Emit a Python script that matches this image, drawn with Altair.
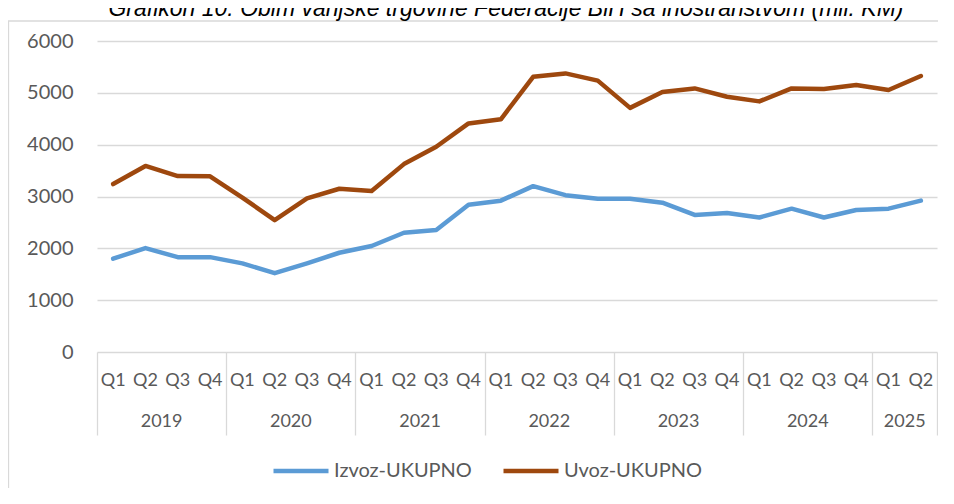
import altair as alt
import pandas as pd

quarters = ["Q1", "Q2", "Q3", "Q4"] * 6 + ["Q1", "Q2"]
years = ["2019"] * 4 + ["2020"] * 4 + ["2021"] * 4 + ["2022"] * 4 + ["2023"] * 4 + ["2024"] * 4 + ["2025"] * 2
izvoz = [1800, 2005, 1830, 1830, 1710, 1520, 1710, 1915, 2045, 2300, 2355, 2840,
         2920, 3200, 3025, 2955, 2955, 2880, 2645, 2680, 2595, 2765, 2595, 2740, 2765, 2920]
uvoz = [3240, 3590, 3395, 3390, 2980, 2545, 2965, 3150, 3105, 3625, 3960, 4410,
        4490, 5310, 5375, 5235, 4710, 5015, 5085, 4925, 4835, 5085, 5075, 5150, 5055, 5325]
series_names = ["Izvoz-UKUPNO", "Uvoz-UKUPNO"]
series_colors = ["#5B9BD5", "#9E480E"]
title_text = "Grafikon 10: Obim vanjske trgovine Federacije BiH sa inostranstvom (mil. KM)"

idx = list(range(len(quarters)))
rows = []
for name, vals in zip(series_names, [izvoz, uvoz]):
    for i, v in zip(idx, vals):
        rows.append({"i": i, "series": name, "value": v})
lines_df = pd.DataFrame(rows)
q_df = pd.DataFrame({"i": idx, "q": quarters})

year_order = list(dict.fromkeys(years))
yc_rows, sep = [], [-0.5]
for y in year_order:
    ii = [i for i, yy in zip(idx, years) if yy == y]
    yc_rows.append({"i": sum(ii) / len(ii), "year": y})
    sep.append(max(ii) + 0.5)
year_df = pd.DataFrame(yc_rows)

W, H = 840, 311
FONT = "Lato"
TXT = "#595959"
GRID = "#D9D9D9"

xs = alt.Scale(domain=[-0.5, len(idx) - 0.5], nice=False, zero=False)
xaxis = alt.Axis(values=sep, labels=False, title=None, domain=False, grid=False,
                 ticks=True, tickSize=83, tickColor=GRID, tickWidth=1.3)

border = alt.Chart(pd.DataFrame({"a": [0]})).mark_rect(
    filled=False, stroke=GRID, strokeWidth=1.3
).encode(x=alt.value(-88.5), x2=alt.value(960), y=alt.value(-20), y2=alt.value(600))

title = alt.Chart(pd.DataFrame({"t": [title_text]})).mark_text(
    font="Liberation Sans", fontStyle="italic", fontSize=23, color="#000000",
    align="center", baseline="alphabetic"
).encode(x=alt.value(409), y=alt.value(-25), text="t:N")

lines = alt.Chart(lines_df).mark_line(
    strokeWidth=4.5, strokeCap="round", strokeJoin="round"
).encode(
    x=alt.X("i:Q", scale=xs, axis=xaxis),
    y=alt.Y("value:Q", scale=alt.Scale(domain=[0, 6000], nice=False),
            axis=alt.Axis(values=[0, 1000, 2000, 3000, 4000, 5000, 6000], title=None,
                          format="d", domain=False, ticks=False, labelPadding=24,
                          labelFontSize=20, labelFont=FONT, labelColor=TXT,
                          grid=True, gridColor=GRID, gridWidth=1.3)),
    color=alt.Color("series:N",
                    scale=alt.Scale(domain=series_names, range=series_colors),
                    legend=alt.Legend(orient="none", legendX=174, legendY=400,
                                      direction="horizontal", title=None,
                                      symbolType="stroke", symbolSize=3025,
                                      symbolStrokeWidth=4.5, labelFontSize=20,
                                      labelFont=FONT, labelColor=TXT,
                                      labelOffset=3, columnPadding=22)),
)

qlab = alt.Chart(q_df).mark_text(font=FONT, fontSize=18, color=TXT, baseline="middle").encode(
    x=alt.X("i:Q", scale=xs, axis=xaxis), y=alt.value(340), text="q:N"
)
ylab = alt.Chart(year_df).mark_text(font=FONT, fontSize=18, color=TXT, baseline="middle").encode(
    x=alt.X("i:Q", scale=xs, axis=xaxis), y=alt.value(381), text="year:N"
)

chart = alt.layer(border, title, lines, qlab, ylab).properties(
    width=W, height=H,
    autosize=alt.AutoSizeParams(type="none"),
    padding={"left": 89, "top": 33, "right": 1, "bottom": 136},
).configure_view(stroke=None)

chart.save("out.html", embed_options={"renderer": "svg", "actions": False})
